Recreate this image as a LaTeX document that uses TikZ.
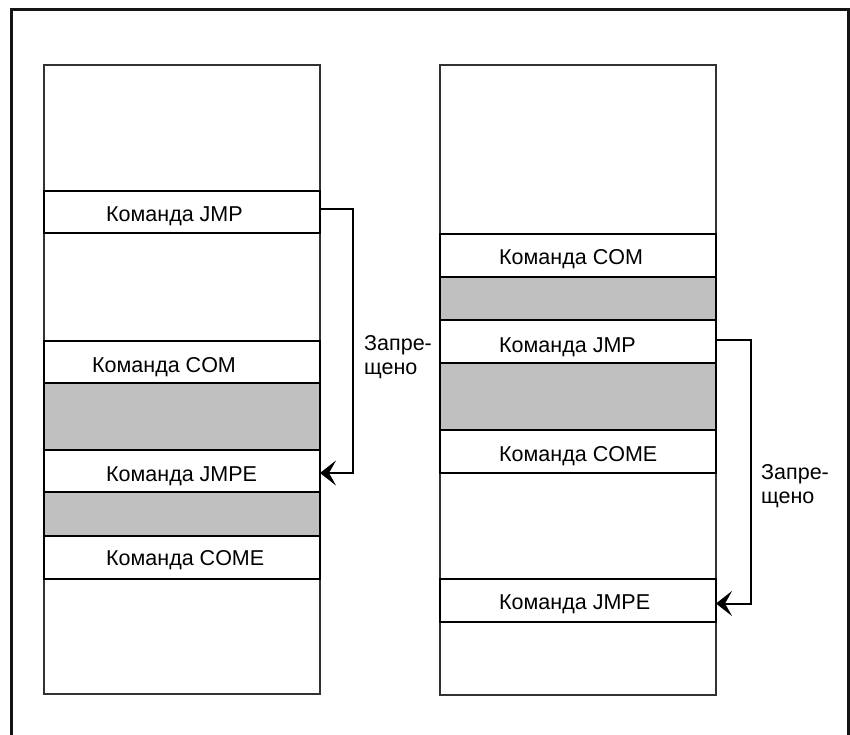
\documentclass[tikz,border=0pt]{standalone}
\usepackage{fontspec}
\setmainfont{Liberation Sans}
\usetikzlibrary{arrows.meta, positioning}
\definecolor{slotGray}{RGB}{192,192,192}
\definecolor{frameLine}{RGB}{20,20,20}
\definecolor{colLine}{RGB}{50,50,50}

\begin{document}
\begin{tikzpicture}[x=1pt, y=-1pt,
    memcol/.style={draw=colLine, line width=2pt, minimum width=276pt, anchor=north west, inner sep=0pt, outer sep=0pt},
    slot/.style={draw=black, line width=1.5pt, minimum width=276pt, anchor=north west, inner sep=0pt, outer sep=0pt},
    busy/.style={slot, fill=slotGray},
    cmd/.style={anchor=base west, inner sep=0pt, font=\fontsize{21.5}{24}\selectfont},
    note/.style={anchor=west, align=left, inner sep=0pt, font=\fontsize{21.5}{24}\selectfont},
    jump/.style={-{Stealth[length=16pt, width=25pt, inset=7pt]}, line width=2pt}
]
    \useasboundingbox (0,0) rectangle (850,735);
    \draw[frameLine, line width=3pt] (11,735) -- (11,10) -- (848.5,10) -- (848.5,735);

    % left program
    \node[memcol, minimum height=629pt] (lcol) at (44,65) {};
    \node[slot, minimum height=42pt] (ljmp) at (44,191) {};
    \node[slot, minimum height=42pt] (lcom) at (44,341) {};
    \node[busy, minimum height=67pt, below=0pt of lcom] (lgap1) {};
    \node[slot, minimum height=42pt, below=0pt of lgap1] (ljmpe) {};
    \node[busy, minimum height=44pt, below=0pt of ljmpe] (lgap2) {};
    \node[slot, minimum height=43pt, below=0pt of lgap2] (lcome) {};

    \node[cmd] (ljmpT) at ([xshift=62pt, yshift=-10pt]ljmp.west) {Команда JMP};
    \node[cmd] (lcomT) at ([xshift=48pt, yshift=-10pt]lcom.west) {Команда COM};
    \node[cmd] (ljmpeT) at ([xshift=62pt, yshift=-10pt]ljmpe.west) {Команда JMPE};
    \node[cmd] (lcomeT) at ([xshift=62pt, yshift=-8pt]lcome.west) {Команда COME};

    % right program
    \node[memcol, minimum height=630pt] (rcol) at (440,65) {};
    \node[slot, minimum height=43pt] (rcom) at (440,234) {};
    \node[busy, minimum height=43pt, below=0pt of rcom] (rgap1) {};
    \node[slot, minimum height=43pt, below=0pt of rgap1] (rjmp) {};
    \node[busy, minimum height=67pt, below=0pt of rjmp] (rgap2) {};
    \node[slot, minimum height=43pt, below=0pt of rgap2] (rcome) {};
    \node[slot, minimum height=43pt] (rjmpe) at (440,579) {};

    \node[cmd] (rcomT) at ([xshift=59pt, yshift=-9pt]rcom.west) {Команда COM};
    \node[cmd] (rjmpT) at ([xshift=59pt, yshift=-11pt]rjmp.west) {Команда JMP};
    \node[cmd] (rcomeT) at ([xshift=59pt, yshift=-10pt]rcome.west) {Команда COME};
    \node[cmd] (rjmpeT) at ([xshift=59pt, yshift=-9pt]rjmpe.west) {Команда JMPE};

    % forbidden jumps
    \draw[jump] ([yshift=3pt]ljmp.east) -- ++(33,0) |- ([yshift=-2pt]ljmpe.east);
    \draw[jump] ([yshift=2pt]rjmp.east) -- ++(35,0) |- ([yshift=-3pt]rjmpe.east);
    \node[note] (lnote) at (364,357) {Запре-\\щено};
    \node[note] (rnote) at (761,486) {Запре-\\щено};
\end{tikzpicture}
\end{document}
